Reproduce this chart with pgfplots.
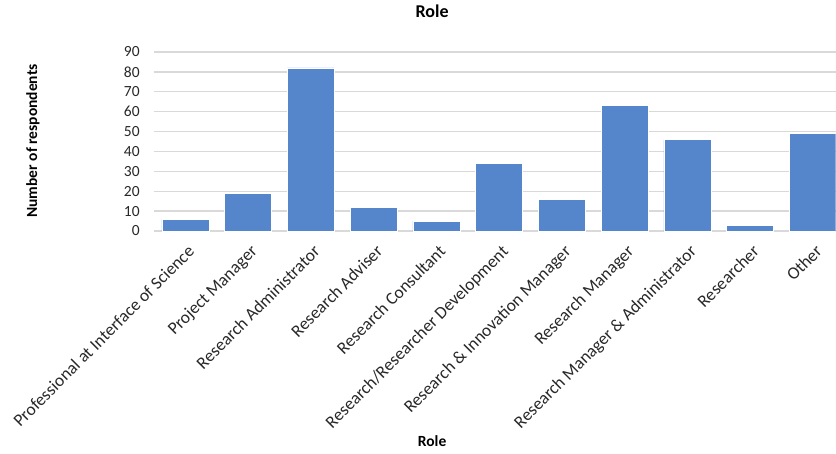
\documentclass[border=0pt]{standalone}
\usepackage{fontspec}
\setmainfont{Carlito}
\usepackage{pgfplots}
\pgfplotsset{compat=1.18}
\definecolor{barblue}{RGB}{85,134,204}
\definecolor{gridgray}{RGB}{217,217,217}
\definecolor{txt}{RGB}{40,40,40}
\begin{document}
\fontsize{15.5}{18}\selectfont
\begin{tikzpicture}[x=1pt,y=1pt]
\begin{axis}[
  at={(0,0)}, anchor=south west,
  scale only axis, width=681.6pt, height=179pt,
  xmin=-0.5, xmax=10.36, ymin=0, ymax=90,
  ytick={0,10,...,90},
  xtick={0,1,...,10},
  xticklabels={Professional at Interface of Science, Project Manager, Research Administrator, Research Adviser, Research Consultant, Research/Researcher Development, Research \& Innovation Manager, Research Manager, Research Manager \& Administrator, Researcher, Other},
  axis line style={draw=none},
  major tick length=0pt,
  ymajorgrids, grid style={gridgray, line width=1.3pt},
  ybar, bar width=47pt,
  /pgf/number format/assume math mode=true,
  tick label style={font=\fontsize{15.5}{18}\selectfont, text=txt},
  yticklabel style={xshift=-9pt},
  xticklabel style={rotate=45, anchor=north east, inner sep=1pt, xshift=-7pt, yshift=-9pt, font=\fontsize{17.5}{20}\selectfont},
  title={\textbf{Role}},
  title style={at={(axis description cs:0.408,1.1955)}, anchor=center, font=\fontsize{18}{21}\selectfont, text=black},
  xlabel={\textbf{Role}},
  xlabel style={at={(axis description cs:0.408,-1.173)}, anchor=center, font=\fontsize{15.5}{18}\selectfont, text=black},
  ylabel={\textbf{Number of respondents}},
  ylabel style={at={(axis description cs:-0.1775,0.5028)}, anchor=center, font=\fontsize{15.5}{18}\selectfont, text=black},
]
\addplot[fill=barblue, draw=white, line width=0.5pt] coordinates {
  (0,6) (1,19) (2,82) (3,12) (4,5) (5,34) (6,16) (7,63) (8,46) (9,3) (10,49)
};
\end{axis}
\pgfresetboundingbox
\path (-154,-222) rectangle (682,231);
\end{tikzpicture}
\end{document}
